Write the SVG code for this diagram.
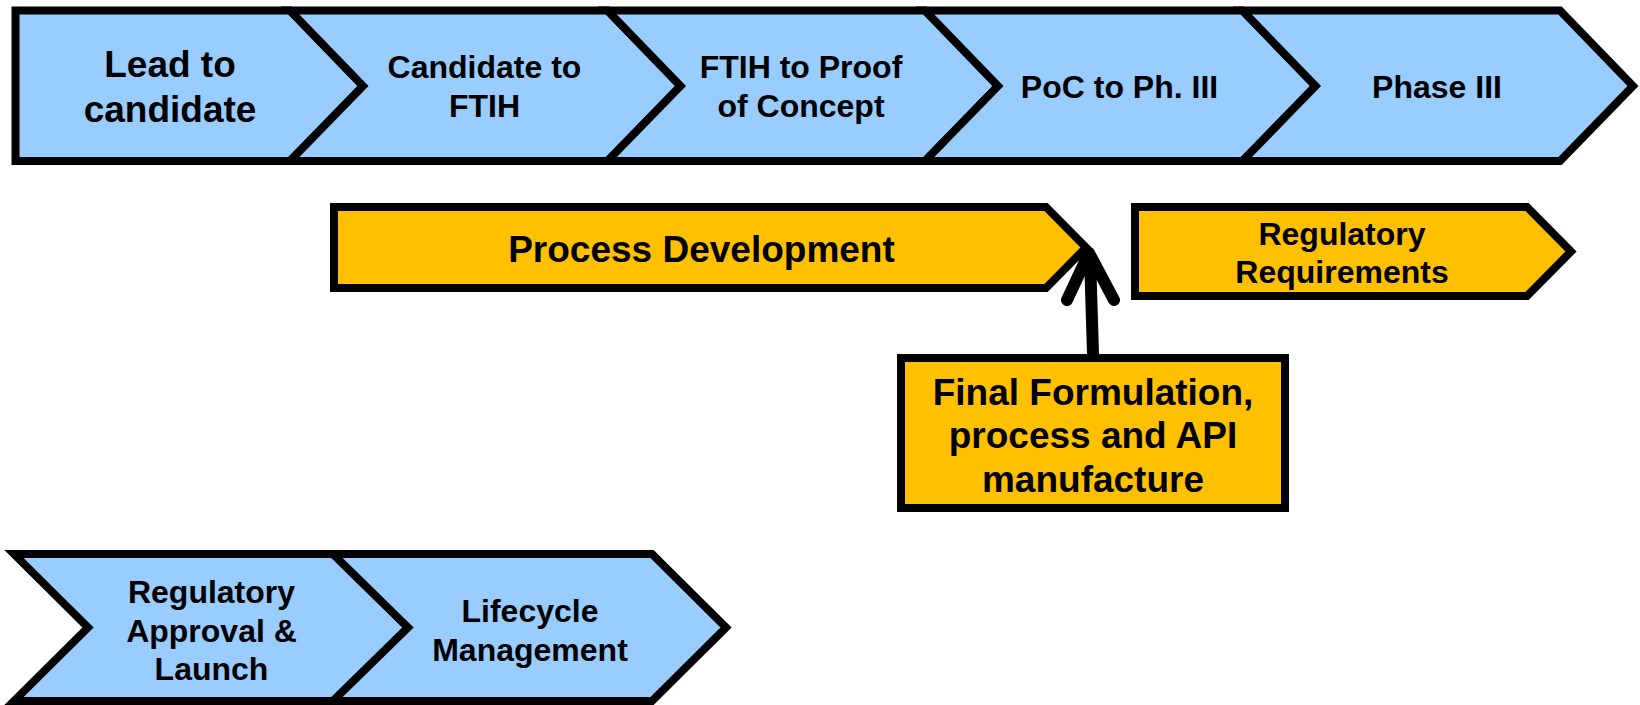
<svg xmlns="http://www.w3.org/2000/svg" width="1640" height="705" viewBox="0 0 1640 705">
<style>
.blue{fill:#99CCFF;stroke:#000;stroke-width:8;stroke-linejoin:miter}
.gold{fill:#FFC000;stroke:#000;stroke-width:8;stroke-linejoin:miter}
text{font-family:"Liberation Sans",Arial,sans-serif;font-weight:bold;fill:#000;text-anchor:middle}
.t32{font-size:32px}
.t36{font-size:37px}
.t37{font-size:37px}
.conn{fill:none;stroke:#000;stroke-width:12;stroke-linecap:round;stroke-linejoin:round}
</style>
<rect width="1640" height="705" fill="#fff"/>
<g id="lead-to-candidate">
<polygon class="blue" points="15.5,10.5 290,10.5 363,86 290,161 15.5,161"/>
<text class="t36" x="170" y="77">Lead to</text>
<text class="t36" x="170" y="122">candidate</text>
</g>
<g id="candidate-to-ftih">
<polygon class="blue" points="290,10.5 607.5,10.5 680.5,86 607.5,161 290,161 363,86"/>
<text class="t32" x="484.5" y="78">Candidate to</text>
<text class="t32" x="484.5" y="117">FTIH</text>
</g>
<g id="ftih-to-poc">
<polygon class="blue" points="607.5,10.5 925,10.5 998,86 925,161 607.5,161 680.5,86"/>
<text class="t32" x="801" y="78">FTIH to Proof</text>
<text class="t32" x="801" y="117">of Concept</text>
</g>
<g id="poc-to-ph3">
<polygon class="blue" points="925,10.5 1242.5,10.5 1315.5,86 1242.5,161 925,161 998,86"/>
<text class="t32" x="1119.5" y="98">PoC to Ph. III</text>
</g>
<g id="phase3">
<polygon class="blue" points="1242.5,10.5 1560,10.5 1633,86 1560,161 1242.5,161 1315.5,86"/>
<text class="t32" x="1437" y="98">Phase III</text>
</g>
<g id="process-development">
<polygon class="gold" points="334,207 1046,207 1086,247.5 1046,288 334,288"/>
<text class="t37" x="701.5" y="262">Process Development</text>
</g>
<g id="regulatory-requirements">
<polygon class="gold" points="1135,207 1527,207 1571,251.5 1527,296 1135,296"/>
<text class="t32" x="1342" y="245">Regulatory</text>
<text class="t32" x="1342" y="283">Requirements</text>
</g>
<g id="final-formulation">
<rect class="gold" x="901" y="358" width="384" height="150"/>
<text class="t37" x="1093" y="405">Final Formulation,</text>
<text class="t37" x="1093" y="448">process and API</text>
<text class="t37" x="1093" y="492">manufacture</text>
</g>
<g id="regulatory-approval">
<polygon class="blue" points="14,554 333,554 408,627.5 333,701 14,701 88,627.5"/>
<text class="t32" x="211.5" y="603">Regulatory</text>
<text class="t32" x="211.5" y="642">Approval &amp;</text>
<text class="t32" x="211.5" y="680">Launch</text>
</g>
<g id="lifecycle-management">
<polygon class="blue" points="333,554 652,554 726,627.5 652,701 333,701 408,627.5"/>
<text class="t32" x="530" y="622">Lifecycle</text>
<text class="t32" x="530" y="661">Management</text>
</g>
<g id="connectors">
<path class="conn" d="M1093,354 L1090,256"/>
<path class="conn" d="M1067,300 L1089,253 L1114,300"/>
</g>
</svg>
